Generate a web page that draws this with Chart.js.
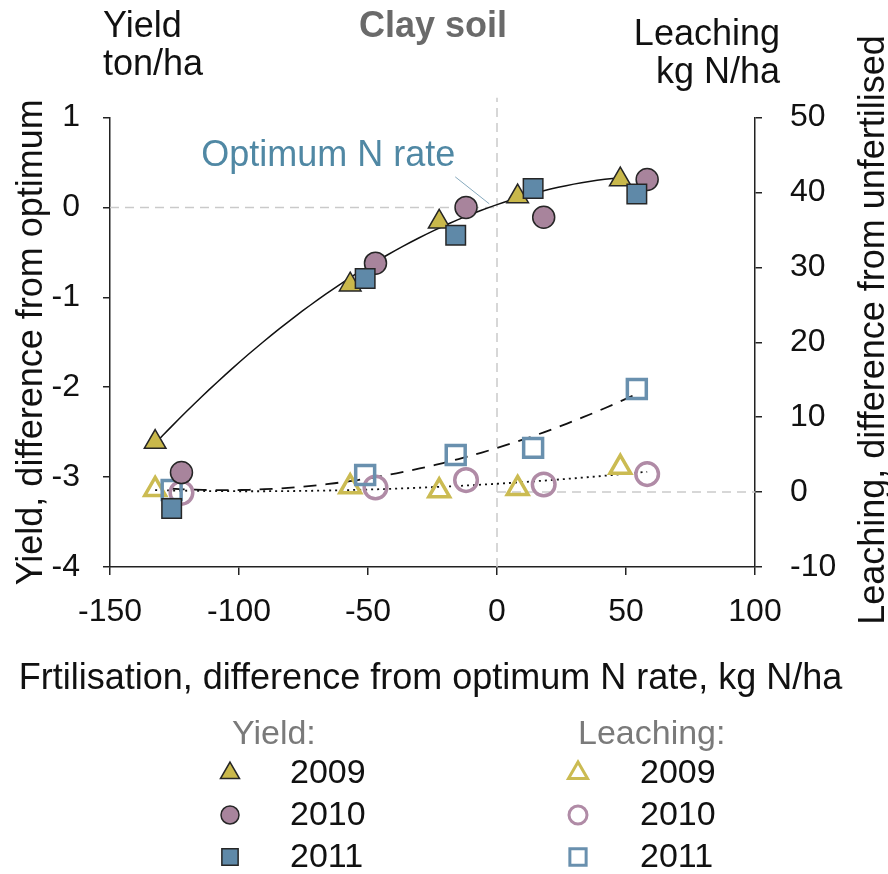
<!DOCTYPE html>
<html><head><meta charset="utf-8">
<script src="https://cdn.jsdelivr.net/npm/chart.js@4.4.1/dist/chart.umd.min.js"></script>
<style>html,body{margin:0;padding:0;background:#fff}#wrap{width:888px;height:874px;position:relative}</style>
</head><body><div id="wrap"><canvas id="c"></canvas></div>
<script>
const FAMILY = "'Liberation Sans', Arial, sans-serif";
// Fertilisation, difference from optimum N rate (kg N/ha), per year
const fertX2009 = [-132.5, -56.9, -22.4, 8.0, 47.8];
const fertX2010 = [-122.3, -47.1, -12.0, 18.1, 58.2];
const fertX2011 = [-126.1, -51.1, -16.0, 14.0, 54.2];
// Yield, difference from optimum (ton/ha)
const yield2009 = [-2.61, -0.86, -0.16, 0.12, 0.31];
const yield2010 = [-2.95, -0.62, 0.00, -0.11, 0.31];
const yield2011 = [-3.35, -0.79, -0.31, 0.21, 0.15];
// Leaching, difference from unfertilised (kg N/ha)
const leach2009 = [0.36, 0.71, 0.17, 0.49, 3.3];
const leach2010 = [-0.1, 0.62, 1.6, 1.02, 2.4];
const leach2011 = [0.27, 2.27, 4.94, 5.9, 13.75];
const years = ['2009', '2010', '2011'];
const xTitle = 'Frtilisation, difference from optimum N rate, kg N/ha';
const yTitle = 'Yield, difference from optimum';
const y2Title = 'Leaching, difference from unfertilised';

const C_Y = '#c9b84b', C_M = '#a8849c', C_B = '#5f89a8';
const C_Yo = '#cbbb52', C_Mo = '#b08ba6', C_Bo = '#6990ae';

function pts(xs, ys) { return xs.map((x, i) => ({x: x, y: ys[i]})); }
// least-squares quadratic trendline computed from the data
function quadFit(xs, ys) {
  let n = xs.length, s = [0,0,0,0,0], t = [0,0,0];
  for (let i = 0; i < n; i++) {
    const x = xs[i], y = ys[i];
    for (let k = 0; k < 5; k++) s[k] += Math.pow(x, k);
    for (let k = 0; k < 3; k++) t[k] += y * Math.pow(x, k);
  }
  const A = [[s[0],s[1],s[2],t[0]],[s[1],s[2],s[3],t[1]],[s[2],s[3],s[4],t[2]]];
  for (let i = 0; i < 3; i++) {
    for (let j = i+1; j < 3; j++) {
      const f = A[j][i]/A[i][i];
      for (let k = i; k < 4; k++) A[j][k] -= f*A[i][k];
    }
  }
  const c = [0,0,0];
  for (let i = 2; i >= 0; i--) {
    let v = A[i][3];
    for (let k = i+1; k < 3; k++) v -= A[i][k]*c[k];
    c[i] = v/A[i][i];
  }
  return c;
}
function trend(xs, ys) {
  const c = quadFit(xs, ys);
  const lo = Math.min(...xs), hi = Math.max(...xs), out = [];
  for (let i = 0; i <= 60; i++) {
    const x = lo + (hi - lo) * i / 60;
    out.push({x: x, y: c[0] + c[1]*x + c[2]*x*x});
  }
  return out;
}
const leachX0910 = fertX2009.concat(fertX2010);
const leach0910 = leach2009.concat(leach2010);

const filled = (label, data, style, r, color, order) => ({
  label: label, data: data, yAxisID: 'y', pointStyle: style, pointRadius: r, pointHoverRadius: r,
  backgroundColor: color, borderColor: '#262626', borderWidth: 1.5, order: order, showLine: false
});
const open = (label, data, style, r, color, order) => ({
  label: label, data: data, yAxisID: 'y2', pointStyle: style, pointRadius: r, pointHoverRadius: r,
  backgroundColor: 'rgba(255,255,255,0)', borderColor: color, borderWidth: 3.5, order: order, showLine: false
});
const lineDs = (label, data, axis, dash, w, order) => ({
  type: 'line', label: label, data: data, yAxisID: axis, borderColor: '#111', borderWidth: w,
  borderDash: dash, pointRadius: 0, fill: false, tension: 0, order: order
});

const datasets = [
  filled('Yield 2011', pts(fertX2011, yield2011), 'rect', 13.8, C_B, 0),
  filled('Yield 2010', pts(fertX2010, yield2010), 'circle', 11, C_M, 1),
  filled('Yield 2009', pts(fertX2009, yield2009), 'triangle', 12.5, C_Y, 2),
  open('Leaching 2011', pts(fertX2011, leach2011), 'rect', 13.4, C_Bo, 3),
  open('Leaching 2010', pts(fertX2010, leach2010), 'circle', 11.3, C_Mo, 4),
  open('Leaching 2009', pts(fertX2009, leach2009), 'triangle', 12, C_Yo, 5),
  lineDs('Yield trend', trend(fertX2009, yield2009), 'y', [], 1.5, 6),
  lineDs('Leaching 2011 trend', trend(fertX2011, leach2011), 'y2', [13, 9], 1.8, 7),
  lineDs('Leaching 2009-2010 trend', trend(leachX0910, leach0910), 'y2', [2, 4], 1.8, 8)
];

const f = (size, weight) => ({family: FAMILY, size: size, weight: weight || 'normal'});

const extras = {
  id: 'extras',
  beforeDatasetsDraw(chart) {
    const {ctx, scales: {x, y, y2}} = chart;
    ctx.save();
    ctx.strokeStyle = '#cacaca'; ctx.lineWidth = 1.5; ctx.setLineDash([9, 6]);
    ctx.beginPath();
    ctx.moveTo(x.getPixelForValue(-150), y.getPixelForValue(0));
    ctx.lineTo(x.getPixelForValue(0), y.getPixelForValue(0));
    ctx.moveTo(x.getPixelForValue(0), y2.getPixelForValue(0));
    ctx.lineTo(x.getPixelForValue(100), y2.getPixelForValue(0));
    ctx.moveTo(x.getPixelForValue(0), y.getPixelForValue(-4));
    ctx.lineTo(x.getPixelForValue(0), y.getPixelForValue(1.22));
    ctx.stroke();
    ctx.restore();
  },
  afterDraw(chart) {
    const {ctx, scales: {x, y}} = chart;
    const H = Chart.helpers;
    const F36 = "36px " + FAMILY;
    ctx.save();
    // annotation
    ctx.strokeStyle = '#86a9bd'; ctx.lineWidth = 1;
    ctx.beginPath();
    ctx.moveTo(x.getPixelForValue(-16.2), y.getPixelForValue(0.34));
    ctx.lineTo(x.getPixelForValue(-3), y.getPixelForValue(0.04));
    ctx.stroke();
    ctx.fillStyle = '#5088a4';
    ctx.font = F36;
    ctx.textAlign = 'right'; ctx.textBaseline = 'alphabetic';
    ctx.fillText('Optimum N rate', x.getPixelForValue(-16.2), y.getPixelForValue(0.455));
    // top texts
    ctx.fillStyle = '#111';
    ctx.textAlign = 'left';
    ctx.fillText('Yield', 103, 37);
    ctx.fillText('ton/ha', 103, 75);
    ctx.textAlign = 'right';
    ctx.fillText('Leaching', 780, 45);
    ctx.fillText('kg N/ha', 780, 83);
    // x axis title
    ctx.textAlign = 'center';
    ctx.fillText(xTitle, (x.left + x.right) / 2 - 2, 689);
    ctx.fillStyle = '#6a6a6a';
    ctx.font = "bold 36px " + FAMILY;
    ctx.fillText('Clay soil', 433, 37);
    // right axis title (reads bottom to top)
    ctx.save();
    ctx.translate(874, 330);
    ctx.rotate(-Math.PI / 2);
    ctx.font = F36;
    ctx.fillStyle = '#111';
    ctx.textAlign = 'center'; ctx.textBaseline = 'middle';
    ctx.fillText(y2Title, 0, 0);
    ctx.restore();
    // legend
    ctx.font = "34px " + FAMILY;
    ctx.textAlign = 'left'; ctx.textBaseline = 'middle';
    ctx.fillStyle = '#7a7a7a';
    ctx.fillText('Yield:', 232, 735);
    ctx.fillText('Leaching:', 578, 735);
    const rows = [773, 815, 857];
    const yl = [datasets[2], datasets[1], datasets[0]];
    const ll = [datasets[5], datasets[4], datasets[3]];
    const lr = {triangle: 11, circle: 9, rect: 11.5};
    for (let i = 0; i < 3; i++) {
      const a = yl[i], b = ll[i];
      ctx.fillStyle = a.backgroundColor; ctx.strokeStyle = a.borderColor; ctx.lineWidth = 1.5;
      H.drawPoint(ctx, {pointStyle: a.pointStyle, radius: lr[a.pointStyle], rotation: 0, borderWidth: 1.5}, 230, rows[i]);
      ctx.fillStyle = 'rgba(255,255,255,0)'; ctx.strokeStyle = b.borderColor; ctx.lineWidth = 3;
      H.drawPoint(ctx, {pointStyle: b.pointStyle, radius: lr[b.pointStyle], rotation: 0, borderWidth: 3}, 578, rows[i]);
      ctx.fillStyle = '#111';
      ctx.fillText(years[i], 290, rows[i] + 1);
      ctx.fillText(years[i], 640, rows[i] + 1);
    }
    ctx.restore();
  }
};

new Chart(document.getElementById('c'), {
  type: 'scatter',
  data: {datasets: datasets},
  options: {
    responsive: true, maintainAspectRatio: false, animation: false,
    events: [],
    layout: {padding: {top: 117.5, bottom: 174, left: 0, right: 0}},
    plugins: {legend: {display: false}, tooltip: {enabled: false}},
    scales: {
      x: {
        type: 'linear', position: 'bottom', min: -150, max: 100,
        ticks: {stepSize: 50, font: f(32), color: '#111', padding: 17.8, maxRotation: 0},
        grid: {drawOnChartArea: false, drawTicks: true, tickLength: 8, color: '#222', lineWidth: 1.5},
        border: {color: '#222', width: 1.5},
        title: {display: false, text: xTitle},
        afterFit(s) { s.height = 133; }
      },
      y: {
        type: 'linear', position: 'left', min: -4, max: 1,
        ticks: {stepSize: 1, font: f(32), color: '#111', padding: 23},
        grid: {drawOnChartArea: false, drawTicks: true, tickLength: 7, color: '#222', lineWidth: 1.5},
        border: {color: '#222', width: 1.5},
        title: {display: true, text: yTitle, font: f(36), color: '#111', padding: {top: 10.5, bottom: 0}},
        afterFit(s) { s.width = 110; }
      },
      y2: {
        type: 'linear', position: 'right', min: -10, max: 50,
        ticks: {stepSize: 10, font: f(32), color: '#111', padding: 28},
        grid: {drawOnChartArea: false, drawTicks: true, tickLength: 7, color: '#222', lineWidth: 1.5},
        border: {color: '#222', width: 1.5},
        afterFit(s) { s.width = 133; }
      }
    }
  },
  plugins: [extras]
});
</script></body></html>
